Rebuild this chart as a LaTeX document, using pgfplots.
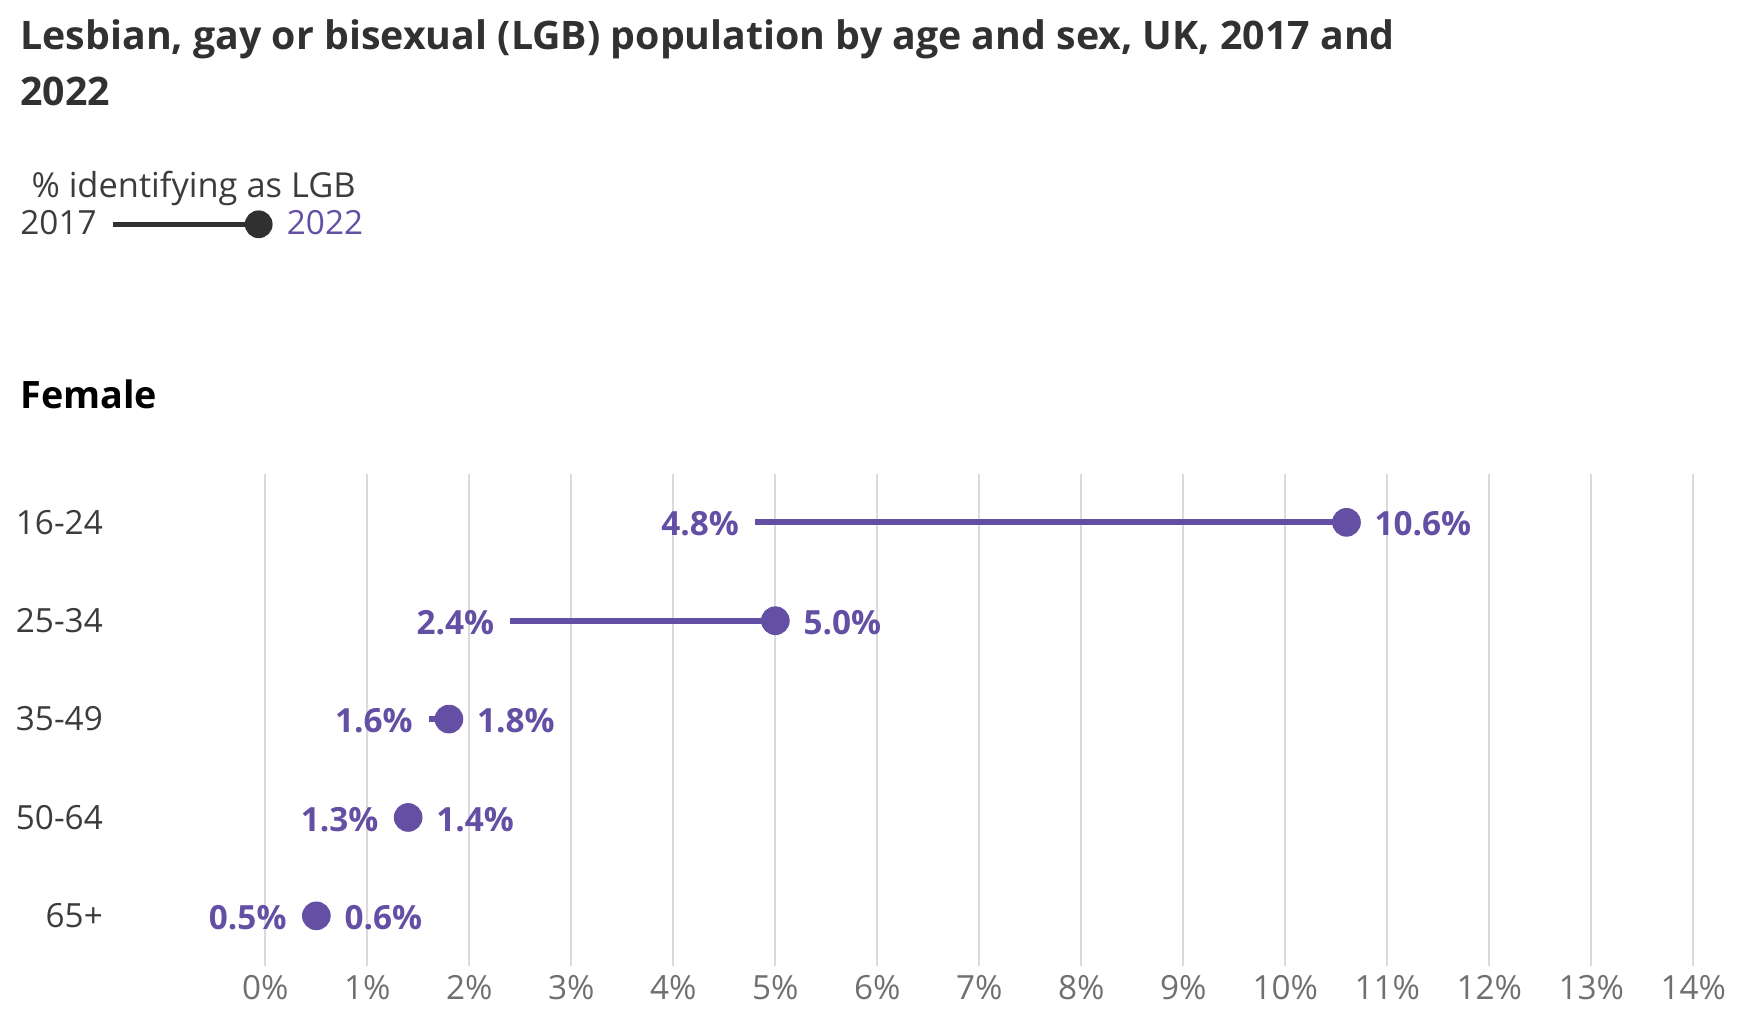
\documentclass[border=0pt]{standalone}
\usepackage{pgfplots}
\pgfplotsset{compat=1.18}
\usepackage{pgfplotstable}
\usepackage{fontspec}
\setmainfont{Open Sans}

\definecolor{lgbpurple}{HTML}{634FA3}
\definecolor{titlegray}{HTML}{323132}
\definecolor{labgray}{HTML}{3C3C3C}
\definecolor{tickgray}{HTML}{707070}
\definecolor{gridgray}{HTML}{DADADA}
\definecolor{zerogray}{HTML}{B0B0B0}

% female, % identifying as LGB
% v22 = where the dot is drawn, l22 = the label shown next to it
\pgfplotstableread{
row v17 v22 l22
0 4.8 10.6 10.6
1 2.4 5.0 5.0
2 1.6 1.8 1.8
3 1.3 1.4 1.4
4 0.5 0.5 0.6
}\female

\newcommand{\ticksize}{\fontsize{15}{18}\selectfont}
\newcommand{\titlesize}{\fontsize{17.7}{25}\selectfont\bfseries}
\newcommand{\pct}[1]{\pgfmathprintnumber[fixed,fixed zerofill,precision=1,assume math mode=true]{#1}\%}

\begin{document}
\begin{tikzpicture}
\begin{axis}[
  at={(0,0)}, anchor=south west,
  width=643pt, height=221.5pt, scale only axis,
  xmin=0, xmax=14, ymin=-0.49, ymax=4.51, y dir=reverse,
  axis line style={draw=none},
  xtick={0,...,14},
  xticklabels={0\%,1\%,2\%,3\%,4\%,5\%,6\%,7\%,8\%,9\%,10\%,11\%,12\%,13\%,14\%},
  ytick={0,...,4},
  yticklabels={16-24,25-34,35-49,50-64,65+},
  major tick length=0pt,
  xmajorgrids,
  major grid style={draw=gridgray, line width=0.8pt},
  extra x ticks={0}, extra x tick labels={},
  extra x tick style={grid style={draw=zerogray, line width=1pt}},
  xticklabel style={font=\ticksize, text=tickgray, anchor=north, inner sep=0pt, yshift=-4pt},
  yticklabel style={font=\ticksize, text=labgray, anchor=east, inner sep=0pt, xshift=-73pt},
  clip=false,
]
% 2017 -> 2022 segments with the 2022 dot
\addplot[only marks, mark=*, mark size=6.25pt, color=lgbpurple,
  nodes near coords={\pct{\pgfplotspointmeta}},
  nodes near coords style={anchor=west, xshift=12.5pt, yshift=-0.8pt, font=\ticksize\bfseries, text=lgbpurple, inner sep=0pt},
  error bars/.cd, x dir=minus, x explicit, error mark=none,
  error bar style={line width=2.75pt, lgbpurple}]
  table[x=v22, y=row, x error expr=\thisrow{v22}-\thisrow{v17}, point meta=\thisrow{l22}] {\female};
% 2017 value labels, kept clear of the dot
\addplot[draw=none, mark=none,
  nodes near coords={\pct{\pgfplotspointmeta}},
  nodes near coords style={anchor=east, xshift=-7pt, yshift=-0.8pt, font=\ticksize\bfseries, text=lgbpurple, inner sep=0pt}]
  table[x expr={min(\thisrow{v17},\thisrow{v22}-0.136)}, y=row, point meta=\thisrow{v17}] {\female};
\end{axis}

% title
\node[anchor=base west, inner sep=0pt, text=titlegray, font=\titlesize] at (-110.5pt,412.5pt)
  {Lesbian, gay or bisexual (LGB) population by age and sex, UK, 2017 and};
\node[anchor=base west, inner sep=0pt, text=titlegray, font=\titlesize] at (-110.5pt,387.5pt) {2022};

% legend
\node[anchor=base west, inner sep=0pt, text=labgray, font=\fontsize{15.5}{18}\selectfont] at (-105.5pt,346pt) {\% identifying as LGB};
\node[anchor=base west, inner sep=0pt, text=labgray, font=\ticksize] at (-110.5pt,329.5pt) {2017};
\draw[line width=2.5pt, draw=titlegray] (-68.5pt,334pt) -- (-3pt,334pt);
\fill[titlegray] (-3pt,334pt) circle (6.25pt);
\node[anchor=base west, inner sep=0pt, text=lgbpurple, font=\ticksize] at (9.5pt,329.5pt) {2022};

% panel heading
\node[anchor=base west, inner sep=0pt, text=black, font=\fontsize{17}{22}\selectfont\bfseries] at (-110.5pt,251pt) {Female};

\pgfresetboundingbox
\path[use as bounding box] (-119.5pt,-29pt) rectangle (664.5pt,435pt);
\end{tikzpicture}
\end{document}
